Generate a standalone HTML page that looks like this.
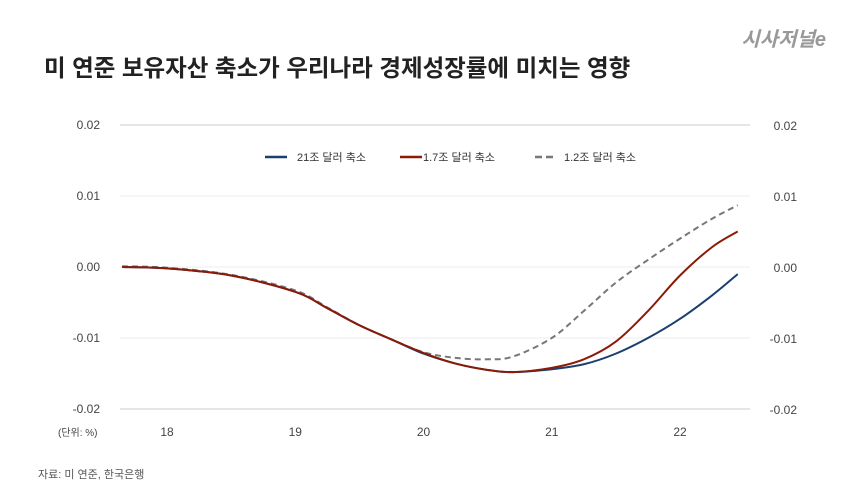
<!DOCTYPE html>
<html><head><meta charset="utf-8"><style>
body{margin:0;background:#fff;width:860px;height:491px;overflow:hidden;font-family:"Liberation Sans","Noto Sans CJK KR",sans-serif}
</style></head><body>
<svg width="860" height="491" style="font-family:'Liberation Sans','Noto Sans CJK KR',sans-serif">
<text x="44" y="76" font-size="23.5" font-weight="bold" fill="#222">미 연준 보유자산 축소가 우리나라 경제성장률에 미치는 영향</text>
<text x="826" y="46" font-size="20" font-weight="bold" fill="#999" text-anchor="end" font-style="italic">시사저널e</text>
<g id="grid"></g><g id="lines"></g>
<g font-size="11" fill="#333">
<line x1="265" y1="157" x2="287" y2="157" stroke="#1b3f6e" stroke-width="2.5"/><text x="297" y="161">21조 달러 축소</text>
<line x1="400" y1="157" x2="422" y2="157" stroke="#8b1a07" stroke-width="2.5"/><text x="423" y="161">1.7조 달러 축소</text>
<line x1="535" y1="157" x2="557" y2="157" stroke="#777" stroke-width="2.5" stroke-dasharray="7,4"/><text x="564" y="161">1.2조 달러 축소</text>
</g>
<text x="58" y="436" font-size="10" fill="#444">(단위: %)</text>
<text x="38" y="478" font-size="11" fill="#555">자료: 미 연준, 한국은행</text>
</svg>
<script>
const yTicks=[0.02,0.01,0,-0.01,-0.02];
const yTickLabels=["0.02","0.01","0.00","-0.01","-0.02"];
const xTicks=[18,19,20,21,22];
const xTickLabels=["18","19","20","21","22"];
const t=[17.65,18,18.5,19,19.25,19.5,19.75,20,20.25,20.5,20.7,21,21.25,21.5,21.75,22,22.25,22.45];
const blue=[0,-0.0002,-0.0012,-0.0035,-0.0058,-0.0082,-0.0102,-0.0122,-0.0136,-0.0145,-0.0148,-0.0144,-0.0137,-0.0122,-0.0100,-0.0073,-0.0040,-0.0010];
const red=[0,-0.0002,-0.0012,-0.0035,-0.0058,-0.0082,-0.0102,-0.0121,-0.0136,-0.0145,-0.0148,-0.0142,-0.0130,-0.0105,-0.0062,-0.0012,0.0028,0.0050];
const gray=[0.0001,-0.0001,-0.0011,-0.0033,-0.0057,-0.0082,-0.0102,-0.0120,-0.0128,-0.0130,-0.0126,-0.0100,-0.0062,-0.0022,0.0010,0.0040,0.0068,0.0087];
const NS="http://www.w3.org/2000/svg";
const xs=v=>167+(v-18)*128.25, ys=v=>267-v*7100;
const grid=document.getElementById('grid'), lines=document.getElementById('lines');
function mk(tag,a,p){const e=document.createElementNS(NS,tag);for(const k in a)e.setAttribute(k,a[k]);p.appendChild(e);return e;}
yTicks.forEach((v,i)=>{
 const l=mk('line',{x1:120,x2:750,y1:ys(v),y2:ys(v),stroke:(i==0||i==4)?'#ccc':'#eee','stroke-width':1},grid);
 
 
 const a=mk('text',{x:100,y:ys(v)+4,'font-size':12,fill:'#444','text-anchor':'end'},grid);a.textContent=yTickLabels[i];
 
 
 const b=mk('text',{x:797,y:ys(v)+5,'font-size':12,fill:'#444','text-anchor':'end'},grid);b.textContent=yTickLabels[i];
 
 
});
xTicks.forEach((v,i)=>{
 const a=mk('text',{x:xs(v),y:436,'font-size':12,fill:'#444','text-anchor':'middle'},grid);a.textContent=xTickLabels[i];
 
 
});
function path(vals){
 const p=t.map((v,i)=>[xs(v),ys(vals[i])]);
 let d='M'+p[0][0]+','+p[0][1];
 for(let i=0;i<p.length-1;i++){
  const p0=p[Math.max(0,i-1)],p1=p[i],p2=p[i+1],p3=p[Math.min(p.length-1,i+2)];
  d+=' C'+(p1[0]+(p2[0]-p0[0])/6)+','+(p1[1]+(p2[1]-p0[1])/6)+' '+(p2[0]-(p3[0]-p1[0])/6)+','+(p2[1]-(p3[1]-p1[1])/6)+' '+p2[0]+','+p2[1];
 }
 return d;
}
[[gray,'#777','6,4','series-1-2t'],[blue,'#1b3f6e','','series-21t'],[red,'#8b1a07','','series-1-7t']].forEach(s=>{
 const e=mk('path',{d:path(s[0]),fill:'none',stroke:s[1],'stroke-width':2,'stroke-dasharray':s[2]},lines);
 
 
});
</script>
</body></html>
